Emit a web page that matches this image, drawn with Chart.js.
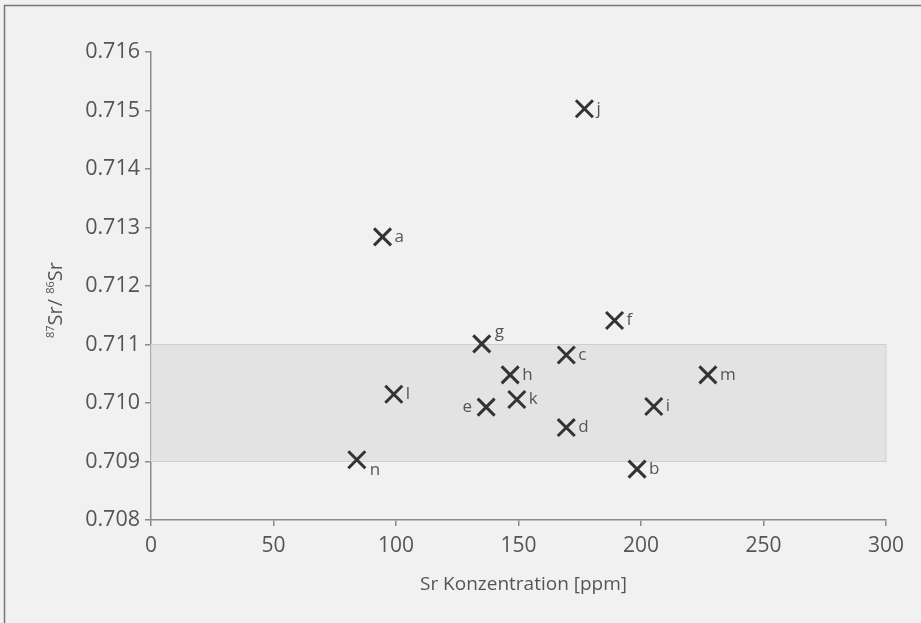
<!DOCTYPE html>
<html>
<head>
<meta charset="utf-8">
<script src="https://cdn.jsdelivr.net/npm/chart.js@4/dist/chart.umd.min.js"></script>
<style>
  html, body { margin: 0; padding: 0; background: #f1f1f1; }
  #wrap { width: 921px; height: 623px; position: relative; }
</style>
</head>
<body>
<div id="wrap"><canvas id="myChart" width="921" height="623"></canvas></div>
<script>
// sample names, Sr concentration [ppm] and 87Sr/86Sr ratio
var sampleNames = ['a', 'b', 'c', 'd', 'e', 'f', 'g', 'h', 'i', 'j', 'k', 'l', 'm', 'n'];
var srPpm   = [94.5, 198.4, 169.5, 169.5, 136.8, 189.2, 135.0, 146.6, 205.2, 176.9, 149.3, 99.1, 227.3, 84.0];
var srRatio = [0.71284, 0.70887, 0.71082, 0.70958, 0.70993, 0.71141, 0.71101, 0.71048, 0.70994, 0.71503, 0.71006, 0.71015, 0.71048, 0.70903];
var bandRange = [0.709, 0.711]; // shaded reference band
var xTicks = [0, 50, 100, 150, 200, 250, 300];
var yTicks = [0.708, 0.709, 0.710, 0.711, 0.712, 0.713, 0.714, 0.715, 0.716];

var points = [];
for (var i = 0; i < srPpm.length; i++) {
    points.push({x: srPpm[i], y: srRatio[i]});
}

var textColor = '#555';
var axisColor = '#8a8a8a';
var fontName = '"Open Sans", "Liberation Sans", sans-serif';

// where the letter goes relative to its cross
var labelSide = { e: 'left', g: 'above', n: 'below' };

// grey band + page frame behind the data
const backdrop = {
    id: 'backdrop',
    beforeDatasetsDraw(chart) {
        const {ctx, scales: {x, y}} = chart;
        ctx.save();
        ctx.strokeStyle = '#777';
        ctx.lineWidth = 1.5;
        ctx.beginPath();
        ctx.moveTo(4.5, 623);
        ctx.lineTo(4.5, 5.5);
        ctx.lineTo(921, 5.5);
        ctx.stroke();

        var x0 = x.getPixelForValue(0), x1 = x.getPixelForValue(300);
        var y0 = y.getPixelForValue(bandRange[1]), y1 = y.getPixelForValue(bandRange[0]);
        ctx.fillStyle = '#e3e3e3';
        ctx.fillRect(x0, y0, x1 - x0, y1 - y0);
        ctx.strokeStyle = '#cfcfcf';
        ctx.lineWidth = 1;
        ctx.strokeRect(x0, y0, x1 - x0, y1 - y0);
        ctx.restore();
    }
};

// letters next to the crosses, and the axis titles
const pointLabels = {
    id: 'pointLabels',
    afterDatasetsDraw(chart) {
        const {ctx, chartArea, scales: {x, y}} = chart;
        const meta = chart.getDatasetMeta(0);
        ctx.save();
        ctx.fillStyle = textColor;
        ctx.font = '17px ' + fontName;
        ctx.textBaseline = 'middle';
        meta.data.forEach(function(pt, idx) {
            var name = sampleNames[idx];
            var side = labelSide[name] || 'right';
            if (side == 'left') {
                ctx.textAlign = 'right';
                ctx.fillText(name, pt.x - 14, pt.y);
            } else if (side == 'above') {
                ctx.textAlign = 'left';
                ctx.fillText(name, pt.x + 13, pt.y - 12);
            } else if (side == 'below') {
                ctx.textAlign = 'left';
                ctx.fillText(name, pt.x + 13, pt.y + 10);
            } else {
                ctx.textAlign = 'left';
                ctx.fillText(name, pt.x + 12, pt.y);
            }
        });

        // x title
        ctx.font = '19px ' + fontName;
        ctx.textAlign = 'center';
        ctx.fillText('Sr Konzentration [ppm]', (chartArea.left + chartArea.right) / 2 + 5, 585);

        // y title with superscripts, rotated
        ctx.translate(55, 300);
        ctx.rotate(-Math.PI / 2);
        var parts = [['87', true], ['Sr/ ', false], ['86', true], ['Sr', false]];
        var w = 0;
        parts.forEach(function(p) {
            ctx.font = (p[1] ? '11px ' : '20px ') + fontName;
            w += ctx.measureText(p[0]).width;
        });
        var cx = -w / 2;
        ctx.textAlign = 'left';
        ctx.textBaseline = 'alphabetic';
        parts.forEach(function(p) {
            ctx.font = (p[1] ? '11px ' : '20px ') + fontName;
            ctx.fillText(p[0], cx, p[1] ? -1 : 7);
            cx += ctx.measureText(p[0]).width;
        });
        ctx.restore();
    }
};

const config = {
    type: 'scatter',
    data: {
        datasets: [{
            data: points,
            pointStyle: 'crossRot',
            pointRadius: 12,
            pointHoverRadius: 12,
            borderWidth: 3,
            borderColor: '#333',
            backgroundColor: '#333'
        }]
    },
    plugins: [backdrop, pointLabels],
    options: {
        responsive: false,
        animation: false,
        layout: { padding: { left: 0, right: 35, top: 52, bottom: 0 } },
        plugins: {
            legend: { display: false },
            tooltip: { enabled: false }
        },
        scales: {
            x: {
                type: 'linear',
                min: 0,
                max: 300,
                afterBuildTicks(scale) { scale.ticks = xTicks.map(v => ({value: v})); },
                afterFit(scale) { scale.height = 103; },
                border: { color: axisColor, width: 1.5 },
                grid: { drawOnChartArea: false, color: axisColor, tickLength: 6, lineWidth: 1.5 },
                ticks: { color: textColor, padding: 7, font: { size: 21, family: fontName } }
            },
            y: {
                type: 'linear',
                min: 0.708,
                max: 0.716,
                afterBuildTicks(scale) { scale.ticks = yTicks.map(v => ({value: v})); },
                afterFit(scale) { scale.width = 151; },
                border: { color: axisColor, width: 1.5 },
                grid: { drawOnChartArea: false, color: axisColor, tickLength: 6, lineWidth: 1.5 },
                ticks: {
                    color: textColor,
                    padding: 5,
                    font: { size: 21.5, family: fontName },
                    callback: function(v) { return v.toFixed(3); }
                }
            }
        }
    }
};

var myChart = new Chart(document.getElementById('myChart'), config);
</script>
</body>
</html>
